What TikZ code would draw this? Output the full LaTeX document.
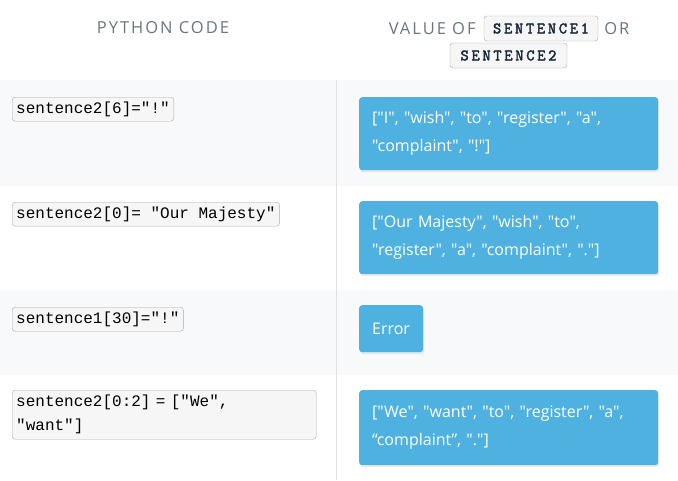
\documentclass[tikz,border=0pt]{standalone}
\usepackage{fontspec}
\setmainfont{Open Sans}[Ligatures=TeXOff]
\newfontfamily\headfont[LetterSpace=12]{Open Sans}
\newfontfamily\codefont{Liberation Mono}
\newfontfamily\varfont[FakeBold=2.5,LetterSpace=17]{Latin Modern Mono}
\usetikzlibrary{positioning,shadows}
\definecolor{rowgray}{HTML}{F8F9FB}
\definecolor{headgray}{HTML}{6C757D}
\definecolor{valblue}{HTML}{4FB1E0}
\definecolor{codefill}{HTML}{F6F6F6}
\definecolor{codeline}{HTML}{ABABAB}
\definecolor{varink}{HTML}{1B2A3C}
\definecolor{divline}{HTML}{DEE2E6}

\begin{document}
\begin{tikzpicture}[x=1pt,y=-1pt,
    head/.style={font=\headfont\fontsize{16.5}{18}\selectfont, text=headgray, inner sep=0pt},
    varbox/.style={draw=codeline, fill=codefill, rounded corners=3pt, text=varink,
        font=\varfont\fontsize{16}{17}\selectfont, inner xsep=4pt, minimum height=25pt},
    code/.style={draw=codeline, fill=codefill, rounded corners=3pt, anchor=north west,
        font=\codefont\fontsize{16}{24}\selectfont, inner xsep=4pt, inner ysep=0pt,
        minimum height=24pt, align=left},
    value/.style={fill=valblue, rounded corners=3pt, anchor=north west, text=white,
        font=\fontsize{16}{28}\selectfont, inner xsep=13pt, align=left,
        drop shadow={shadow xshift=1pt, shadow yshift=-2pt, opacity=0.15}},
    wide/.style={value, text width=273pt, minimum height=73pt}]
  \useasboundingbox (0,0) rectangle (678,480);
  \fill[white] (0,0) rectangle (678,480);
  % row backgrounds
  \fill[rowgray] (0,80) rectangle (678,186);
  \fill[rowgray] (0,290) rectangle (678,375);
  \draw[divline] (336,80) -- (336,480);

  % header
  \node[head] (hcode) at (163,28) {PYTHON CODE};
  \node[varbox, minimum width=114pt] (s1) at (541,28.5) {SENTENCE1};
  \node[head, left=8pt of s1] (hval) {VALUE OF};
  \node[head, right=6pt of s1] (hor) {OR};
  \node[varbox, minimum width=117pt] (s2) at (508.5,55.5) {SENTENCE2};

  % rows
  \node[code] (c1) at (12,97) {sentence2[6]="!"};
  \node[wide] (v1) at (359,97) {["I", "wish", "to", "register", "a",\\ "complaint", "!"]};

  \node[code] (c2) at (12,202) {sentence2[0]= "Our Majesty"};
  \node[wide] (v2) at (359,201) {["Our Majesty", "wish", "to",\\ "register", "a", "complaint", "."]};

  \node[code] (c3) at (12,307) {sentence1[30]="!"};
  \node[value, minimum height=47pt, inner xsep=13pt] (v3) at (359,305) {Error};

  \node[code, text width=296pt, minimum height=49pt] (c4) at (12,390) {sentence2[0:2] = ["We",\\ "want"]};
  \node[wide, minimum height=75pt] (v4) at (359,390) {["We", "want", "to", "register", "a",\\ “complaint”, "."]};
\end{tikzpicture}
\end{document}
